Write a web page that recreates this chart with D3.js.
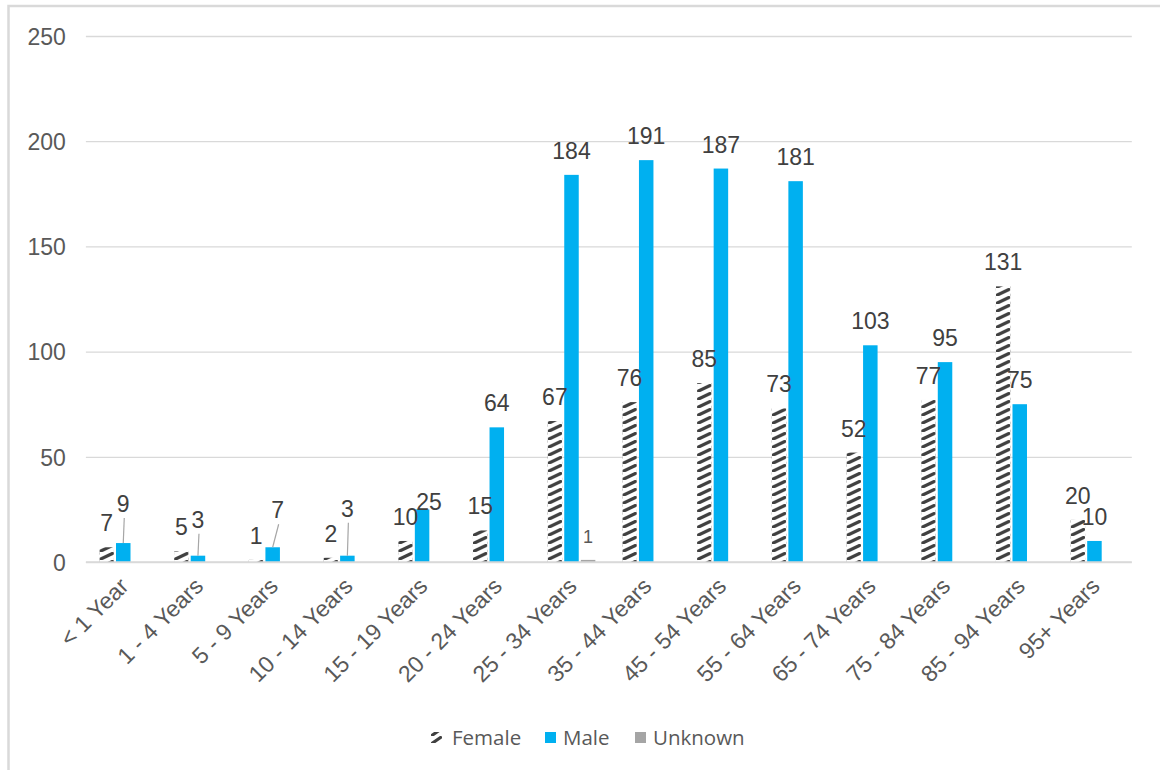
<!DOCTYPE html>
<html>
<head>
<meta charset="utf-8">
<script src="https://cdn.jsdelivr.net/npm/d3@7"></script>
<style>
  html, body { margin: 0; padding: 0; background: #ffffff; }
  svg { display: block; }
</style>
</head>
<body>
<svg id="chart" width="1160" height="770"></svg>
<script>
// Age groups along the x axis
const categories = ["< 1 Year", "1 - 4 Years", "5 - 9 Years", "10 - 14 Years", "15 - 19 Years",
  "20 - 24 Years", "25 - 34 Years", "35 - 44 Years", "45 - 54 Years", "55 - 64 Years",
  "65 - 74 Years", "75 - 84 Years", "85 - 94 Years", "95+ Years"];

// Counts per series
const femaleValues  = [7, 5, 1, 2, 10, 15, 67, 76, 85, 73, 52, 77, 131, 20];
const maleValues    = [9, 3, 7, 3, 25, 64, 184, 191, 187, 181, 103, 95, 75, 10];
const unknownValues = [null, null, null, null, null, null, 1, null, null, null, null, null, null, null];

const seriesNames = ["Female", "Male", "Unknown"];
const yTicks = [0, 50, 100, 150, 200, 250];

// Labels that are pulled away from their bar (leader line drawn when lifted)
const labelNudges = [
  { series: "Male", index: 0, dx: 0, dy: -15, leader: true },
  { series: "Male", index: 1, dx: 0, dy: -12, leader: true },
  { series: "Male", index: 2, dx: 5, dy: -13, leader: true },
  { series: "Male", index: 3, dx: 0, dy: -23, leader: true },
  { series: "Male", index: 4, dx: 7, dy: 17, leader: false }
];

const svg = d3.select("#chart");
const plot = { left: 85.9, right: 1131.8, top: 36, bottom: 562 };

const colors = { Female: "#404040", Male: "#00B0F0", Unknown: "#A5A5A5" };
const gridColor = "#D9D9D9";
const axisText = "#595959";
const labelText = "#404040";
const numFont = "'Liberation Sans', Arial, sans-serif";
const legendFont = "'Open Sans', 'Segoe UI', sans-serif";

// Chart frame
svg.append("rect")
  .attr("x", 8.5).attr("y", 6)
  .attr("width", 1300).attr("height", 900)
  .attr("fill", "#ffffff")
  .attr("stroke", gridColor).attr("stroke-width", 2.5);

const x = d3.scaleBand().domain(categories).range([plot.left, plot.right]).padding(0);
const y = d3.scaleLinear().domain([0, 250]).range([plot.bottom, plot.top]);

const barW = 14.5;
const barStep = 16.6;
const offsets = { Female: -barStep, Male: 0, Unknown: barStep };
const barCenter = (s, i) => x(categories[i]) + x.bandwidth() / 2 + offsets[s];

// Gridlines and value axis labels
const yAxis = d3.axisLeft(y).tickValues(yTicks).tickSize(-(plot.right - plot.left)).tickFormat(d3.format("d"));
const gy = svg.append("g").attr("transform", `translate(${plot.left},0)`).call(yAxis);
gy.select(".domain").remove();
gy.selectAll(".tick line").attr("stroke", gridColor).attr("stroke-width", 1.3);
gy.selectAll(".tick text")
  .attr("x", -20)
  .attr("fill", axisText)
  .attr("font-family", numFont)
  .attr("font-size", 23)
  .attr("text-anchor", "end")
  .attr("dy", "0.36em");

// Hatch patterns for the female bars, one per bar so the dashes line up with the bar edges
const defs = svg.append("defs");
function makeHatch(id, xOrigin, w) {
  const p = defs.append("pattern")
    .attr("id", id)
    .attr("patternUnits", "userSpaceOnUse")
    .attr("x", xOrigin).attr("y", 0)
    .attr("width", w).attr("height", 8);
  p.append("rect").attr("width", w).attr("height", 8).attr("fill", "#ffffff");
  p.append("path")
    .attr("d", `M1.5,7 L${w - 1.5},1.5`)
    .attr("stroke", colors.Female)
    .attr("stroke-width", 3.2)
    .attr("stroke-linecap", "round");
}

const seriesData = { Female: femaleValues, Male: maleValues, Unknown: unknownValues };
const bars = svg.append("g");

seriesNames.forEach(s => {
  seriesData[s].forEach((v, i) => {
    if (v === null) return;
    const cx = barCenter(s, i);
    let fill = colors[s];
    if (s === "Female") {
      const id = "hatch-" + i;
      makeHatch(id, cx - barW / 2, barW);
      fill = `url(#${id})`;
    }
    bars.append("rect")
      .attr("x", cx - barW / 2)
      .attr("y", y(v))
      .attr("width", barW)
      .attr("height", y(0) - y(v))
      .attr("fill", fill);
  });
});

// Baseline
svg.append("line")
  .attr("x1", plot.left).attr("x2", plot.right)
  .attr("y1", y(0)).attr("y2", y(0))
  .attr("stroke", gridColor).attr("stroke-width", 1.3);

// Value labels
const labels = svg.append("g");
seriesNames.forEach(s => {
  seriesData[s].forEach((v, i) => {
    if (v === null) return;
    const nudge = labelNudges.find(n => n.series === s && n.index === i) || { dx: 0, dy: 0, leader: false };
    const cx = barCenter(s, i);
    const lx = cx + nudge.dx;
    const baseGap = s === "Unknown" ? 17 : 16;
    const ly = y(v) - baseGap + nudge.dy;
    const fontSize = s === "Unknown" ? 18 : 23;
    labels.append("text")
      .attr("x", lx).attr("y", ly)
      .attr("text-anchor", "middle")
      .attr("font-family", numFont)
      .attr("font-size", fontSize)
      .attr("fill", s === "Unknown" ? axisText : labelText)
      .text(v);
    if (nudge.leader) {
      labels.append("line")
        .attr("x1", lx + 1).attr("y1", ly + 6)
        .attr("x2", cx).attr("y2", y(v))
        .attr("stroke", "#A6A6A6").attr("stroke-width", 1.2);
    }
  });
});

// Category labels, rotated
const catG = svg.append("g");
categories.forEach(c => {
  const cx = x(c) + x.bandwidth() / 2 + 1;
  const cy = plot.bottom + 20;
  catG.append("text")
    .attr("transform", `translate(${cx},${cy}) rotate(-45)`)
    .attr("text-anchor", "end")
    .attr("dy", "0.35em")
    .attr("font-family", numFont)
    .attr("font-size", 23)
    .attr("fill", axisText)
    .text(c);
});

// Legend
const legend = svg.append("g");
makeHatch("hatch-legend", 431, 11);
const legendItems = [
  { name: "Female", sx: 431, tx: 452 },
  { name: "Male", sx: 545, tx: 563 },
  { name: "Unknown", sx: 635, tx: 653 }
];
legendItems.forEach(it => {
  legend.append("rect")
    .attr("x", it.sx).attr("y", 732)
    .attr("width", 11).attr("height", 11)
    .attr("fill", it.name === "Female" ? "url(#hatch-legend)" : colors[it.name]);
  legend.append("text")
    .attr("x", it.tx).attr("y", 745)
    .attr("font-family", legendFont)
    .attr("font-size", 20.5)
    .attr("fill", axisText)
    .text(it.name);
});
</script>
</body>
</html>
